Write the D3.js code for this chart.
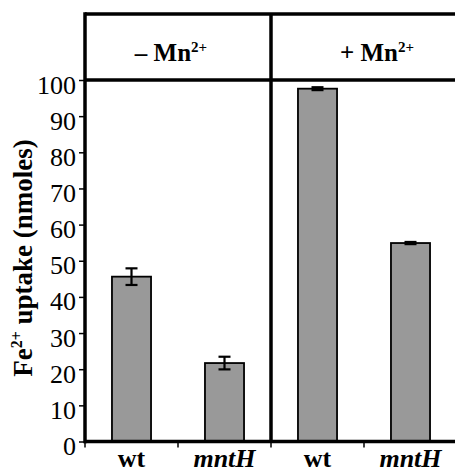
<!DOCTYPE html>
<html>
<head>
<meta charset="utf-8">
<script src="https://cdn.jsdelivr.net/npm/d3@7"></script>
</head>
<body style="margin:0">
<svg id="chart" width="455" height="472"></svg>
<script>
const panelSigns = ["–", "+"];
const strains = ["wt", "mntH", "wt", "mntH"];
const uptake = [45.6, 21.7, 97.6, 54.9];
const uptakeErr = [2.3, 1.75, 0.4, 0.3];
const yTicks = [0, 10, 20, 30, 40, 50, 60, 70, 80, 90, 100];

const W = 455;
const plotLeft = 85, plotRight = 457, plotTop = 14, plotBottom = 441.5;
const serifFont = "'Liberation Serif'";

const svg = d3.select("#chart");

const x = d3.scaleBand().domain(d3.range(strains.length)).range([plotLeft, plotRight]).padding(0);
const y = d3.scaleLinear().domain([0, 100]).range([plotBottom, 80]);
const barW = x.bandwidth() * 0.42;
const cx = i => x(i) + x.bandwidth() / 2;

// bars
svg.selectAll(".bar")
    .data(uptake)
    .enter().append("rect")
    .attr("class", "bar")
    .attr("x", (d, i) => x(i) + (x.bandwidth() - barW) / 2)
    .attr("y", d => y(d))
    .attr("width", barW)
    .attr("height", d => y(0) - y(d))
    .attr("fill", "#999")
    .attr("stroke", "#000")
    .attr("stroke-width", 1.8);

// error bars
const err = svg.selectAll(".err")
    .data(uptake)
    .enter().append("g")
    .attr("class", "err")
    .attr("stroke", "#000")
    .attr("stroke-width", 2.2);

err.append("line")
    .attr("x1", (d, i) => cx(i)).attr("x2", (d, i) => cx(i))
    .attr("y1", (d, i) => y(d - uptakeErr[i]))
    .attr("y2", (d, i) => y(d + uptakeErr[i]));
[1, -1].forEach(s => {
    err.append("line")
        .attr("x1", (d, i) => cx(i) - 6).attr("x2", (d, i) => cx(i) + 6)
        .attr("y1", (d, i) => y(d + s * uptakeErr[i]))
        .attr("y2", (d, i) => y(d + s * uptakeErr[i]));
});

// y axis ticks
const yAxis = svg.append("g")
    .attr("transform", `translate(${plotLeft},0)`)
    .call(d3.axisLeft(y).tickValues(yTicks).tickSize(6).tickSizeOuter(0).tickPadding(3));
yAxis.attr("font-family", serifFont);
yAxis.select(".domain").remove();
yAxis.selectAll("line").attr("stroke-width", 1.5);
yAxis.selectAll("text")
    .attr("font-family", serifFont)
    .attr("font-size", 26)
    .attr("dy", "0.5em");

// x ticks at category boundaries
svg.selectAll(".xtick")
    .data(strains)
    .enter().append("line")
    .attr("x1", (d, i) => x(i)).attr("x2", (d, i) => x(i))
    .attr("y1", plotBottom).attr("y2", plotBottom + 6)
    .attr("stroke", "#000")
    .attr("stroke-width", 1.5);

// category labels
svg.selectAll(".xlabel")
    .data(strains)
    .enter().append("text")
    .attr("x", (d, i) => cx(i))
    .attr("y", 467)
    .attr("text-anchor", "middle")
    .attr("font-family", serifFont)
    .attr("font-size", 26)
    .attr("font-weight", "bold")
    .attr("font-style", d => d === "wt" ? "normal" : "italic")
    .text(d => d);

// frame lines
const frame = svg.append("g").attr("stroke", "#000").attr("stroke-width", 3.5);
frame.append("line").attr("x1", plotLeft).attr("x2", W).attr("y1", plotTop).attr("y2", plotTop);
frame.append("line").attr("x1", plotLeft).attr("x2", W).attr("y1", y(100)).attr("y2", y(100));
frame.append("line").attr("x1", plotLeft - 1).attr("x2", W).attr("y1", plotBottom).attr("y2", plotBottom);
frame.append("line").attr("x1", plotLeft).attr("x2", plotLeft).attr("y1", plotTop - 1.75).attr("y2", plotBottom + 1.75);
frame.append("line").attr("x1", x(2)).attr("x2", x(2)).attr("y1", plotTop).attr("y2", plotBottom);

// panel headers
const panelCenters = [(x(0) + x(2)) / 2 - 7, (x(2) + plotRight) / 2 + 13];
panelSigns.forEach((s, i) => {
    const t = svg.append("text")
        .attr("x", panelCenters[i])
        .attr("y", 61)
        .attr("text-anchor", "middle")
        .attr("font-family", serifFont)
        .attr("font-size", 25)
        .attr("font-weight", "bold");
    t.append("tspan").attr("font-family", serifFont).text(s + " Mn");
    t.append("tspan").attr("font-family", serifFont).attr("dy", -9).attr("font-size", 15).text("2+");
});

// y axis label
const yl = svg.append("text")
    .attr("transform", "translate(32,258) rotate(-90)")
    .attr("text-anchor", "middle")
    .attr("font-family", serifFont)
    .attr("font-size", 27)
    .attr("font-weight", "bold");
yl.append("tspan").attr("font-family", serifFont).text("Fe");
yl.append("tspan").attr("font-family", serifFont).attr("dy", -10).attr("font-size", 16).text("2+");
yl.append("tspan").attr("font-family", serifFont).attr("dy", 10).text(" uptake (nmoles)");
</script>
</body>
</html>
